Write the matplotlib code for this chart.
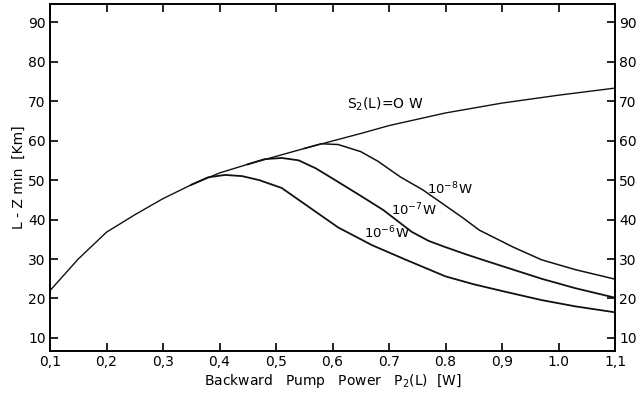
import matplotlib
matplotlib.use("Agg")
import matplotlib.pyplot as plt

# data: pump power P2(L) [W] vs L - Zmin [km]
p_main = [0.1, 0.15, 0.2, 0.25, 0.3, 0.35, 0.4, 0.45, 0.5, 0.55, 0.6, 0.65, 0.7, 0.8, 0.9, 1.0, 1.1]
z_main = [22.0, 30.0, 36.8, 41.2, 45.3, 48.8, 51.8, 54.0, 56.0, 58.0, 59.9, 61.8, 63.8, 67.0, 69.5, 71.5, 73.3]

p_m6 = [0.35, 0.38, 0.41, 0.44, 0.47, 0.51, 0.56, 0.61, 0.67, 0.73, 0.80, 0.85, 0.90, 0.97, 1.03, 1.1]
z_m6 = [48.8, 50.7, 51.3, 51.0, 50.0, 48.0, 43.0, 38.0, 33.5, 29.8, 25.6, 23.6, 21.9, 19.6, 18.0, 16.5]

p_m7 = [0.45, 0.48, 0.51, 0.54, 0.57, 0.60, 0.65, 0.69, 0.74, 0.77, 0.80, 0.84, 0.87, 0.92, 0.97, 1.03, 1.1]
z_m7 = [54.0, 55.3, 55.6, 55.0, 53.0, 50.4, 46.0, 42.4, 36.9, 34.6, 33.0, 31.0, 29.6, 27.3, 25.0, 22.6, 20.2]

p_m8 = [0.55, 0.58, 0.61, 0.65, 0.68, 0.72, 0.76, 0.79, 0.83, 0.86, 0.92, 0.97, 1.03, 1.1]
z_m8 = [58.0, 59.2, 59.0, 57.2, 54.8, 50.8, 47.5, 44.5, 40.5, 37.3, 33.0, 29.8, 27.3, 24.9]

xticks = [0.1, 0.2, 0.3, 0.4, 0.5, 0.6, 0.7, 0.8, 0.9, 1.0, 1.1]
xlabels = ["0,1", "0,2", "0,3", "0,4", "0,5", "0,6", "0.7", "0.8", "0,9", "1.0", "1,1"]
yticks = [10, 20, 30, 40, 50, 60, 70, 80, 90]

fig = plt.figure(figsize=(6.37, 4.0), dpi=100)
ax = fig.add_axes([0.0785, 0.1225, 0.887, 0.8675])

ax.plot(p_main, z_main, color="#111111", lw=1.0)
ax.plot(p_m6, z_m6, color="#111111", lw=1.3)
ax.plot(p_m7, z_m7, color="#111111", lw=1.3)
ax.plot(p_m8, z_m8, color="#111111", lw=1.1)

ax.set_xlim(0.1, 1.1)
ax.set_ylim(6.7, 94.6)
ax.set_xticks(xticks)
ax.set_xticklabels(xlabels)
ax.set_yticks(yticks)
ax.tick_params(direction="in", length=6, width=1.2, labelsize=10,
               top=True, right=True, labelright=True, pad=3)

for s in ax.spines.values():
    s.set_linewidth(1.4)

ax.text(0.626, 68.0, "S$_2$(L)=O W", fontsize=10)
ax.text(0.767, 46.3, "10$^{-8}$W", fontsize=9.5)
ax.text(0.703, 41.2, "10$^{-7}$W", fontsize=9.5)
ax.text(0.655, 35.2, "10$^{-6}$W", fontsize=9.5)

ax.set_xlabel("Backward   Pump   Power   P$_2$(L)  [W]", fontsize=10, labelpad=2)
ax.set_ylabel("L - Z min  [Km]", fontsize=10, labelpad=2)

fig.savefig("out.png", dpi=100)
